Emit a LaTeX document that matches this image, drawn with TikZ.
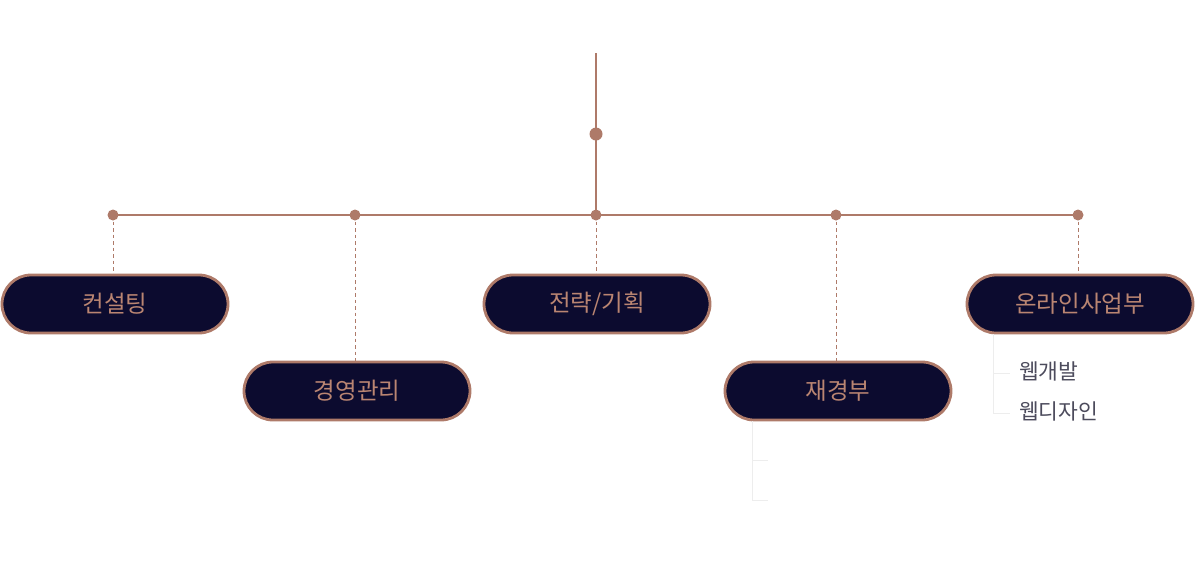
\documentclass[tikz,border=0pt]{standalone}
\usepackage{fontspec}
\setmainfont{Noto Sans CJK KR}
\definecolor{brn}{HTML}{AE7A69}
\definecolor{navy}{HTML}{0C0B2F}
\definecolor{boxtxt}{HTML}{BA8572}
\definecolor{subtxt}{HTML}{4C4B5C}
\definecolor{faint}{HTML}{EDEDED}
\begin{document}
\begin{tikzpicture}[x=1pt,y=-1pt,
  dept/.style={draw=brn, line width=2.8pt, fill=navy, rounded corners=29pt,
    minimum width=226pt, minimum height=58pt, inner sep=0pt,
    text=boxtxt, font=\fontsize{23.5}{26}\selectfont},
  dot/.style={circle, fill=brn, inner sep=0pt, minimum size=11pt},
  bigdot/.style={circle, fill=brn, inner sep=0pt, minimum size=13pt},
  trunk/.style={draw=brn, line width=1.6pt},
  drop/.style={draw=brn, line width=1pt, dashed, dash pattern=on 3.5pt off 3pt},
  sub/.style={anchor=west, text=subtxt, inner sep=0pt, font=\fontsize{21.5}{24}\selectfont},
  faintline/.style={draw=faint, line width=0.8pt}]
\useasboundingbox (0,0) rectangle (1195,566);
% top trunk
\coordinate (top) at (596,53);
\coordinate (mid) at (596,134);
\coordinate (d1) at (113,215);
\coordinate (d2) at (355,215);
\coordinate (d3) at (596,215);
\coordinate (d4) at (836,215);
\coordinate (d5) at (1078,215);
\draw[trunk] (top) -- (d3);
\draw[trunk] (d1) -- (d5);
% boxes
\node[dept] (b1) at (115,304) {컨설팅};
\node[dept] (b2) at (357,391) {경영관리};
\node[dept] (b3) at (597,304) {전략/기획};
\node[dept] (b4) at (838,391) {재경부};
\node[dept] (b5) at (1080,304) {온라인사업부};
% dashed drops
\draw[drop] (d1) -- (d1 |- b1.north);
\draw[drop] (d2) -- (d2 |- b2.north);
\draw[drop] (d3) -- (d3 |- b3.north);
\draw[drop] (d4) -- (d4 |- b4.north);
\draw[drop] (d5) -- (d5 |- b5.north);
% dots
\node[bigdot] (m) at (mid) {};
\node[dot] at (d1) {};
\node[dot] at (d2) {};
\node[dot] at (d3) {};
\node[dot] at (d4) {};
\node[dot] at (d5) {};
% online sub items
\coordinate (s5a) at (993,334);
\coordinate (s5b) at (993,373);
\coordinate (s5c) at (993,413);
\draw[faintline] (s5a) -- (s5c) -- ++(17,0);
\draw[faintline] (s5b) -- ++(17,0);
\node[sub] (w1) at (1019,371) {웹개발};
\node[sub] (w2) at (1019,411) {웹디자인};
% finance sub lines
\coordinate (s4a) at (752,421);
\coordinate (s4b) at (752,460);
\coordinate (s4c) at (752,500);
\draw[faintline] (s4a) -- (s4c) -- ++(16,0);
\draw[faintline] (s4b) -- ++(16,0);
\end{tikzpicture}
\end{document}
